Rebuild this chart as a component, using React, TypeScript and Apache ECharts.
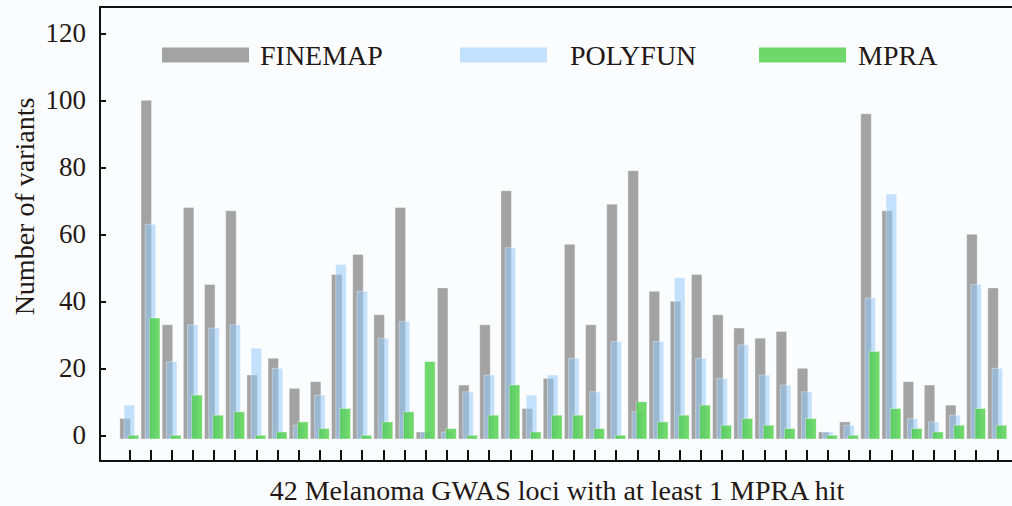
import React, { useEffect, useRef } from "react";
import * as echarts from "echarts";

// Values (42 loci)
const FINEMAP = [5, 100, 33, 68, 45, 67, 18, 23, 14, 16, 48, 54, 36, 68, 1, 44, 15, 33, 73, 8, 17, 57, 33, 69, 79, 43, 40, 48, 36, 32, 29, 31, 20, 1, 4, 96, 67, 16, 15, 9, 60, 44];
const POLYFUN = [9, 63, 22, 33, 32, 33, 26, 20, 3, 12, 51, 43, 29, 34, 1, 1, 13, 18, 56, 12, 18, 23, 13, 28, 7, 28, 47, 23, 17, 27, 18, 15, 13, 1, 3, 41, 72, 5, 4, 6, 45, 20];
const MPRA = [0, 35, 0, 12, 6, 7, 0, 1, 4, 2, 8, 0, 4, 7, 22, 2, 0, 6, 15, 1, 6, 6, 2, 0, 10, 4, 6, 9, 3, 5, 3, 2, 5, 0, 0, 25, 8, 2, 1, 3, 8, 3];
const SERIES_NAMES = ["FINEMAP", "POLYFUN", "MPRA"];
const Y_TICKS = [0, 20, 40, 60, 80, 100, 120];
const X_TITLE = "42 Melanoma GWAS loci with at least 1 MPRA hit";
const Y_TITLE = "Number of variants";

const BAR_BASE = -1.1;
const FONT = "Liberation Serif";
const TEXT_COLOR = "#231815";
const AXIS_COLOR = "#111111";
const COLORS = ["#a3a3a3", "rgba(147,201,250,0.54)", "rgba(72,205,65,0.78)"];
const BAR_FRAC = 0.496;
const OFFSET_FRAC = 0.198;

export default function App() {
  const ref = useRef<HTMLDivElement>(null);
  useEffect(() => {
    if (!ref.current) return;
    const chart = echarts.init(ref.current, undefined, { renderer: "svg" });
    const loci = FINEMAP.map((_, i) => i + 1);
    const all = [FINEMAP, POLYFUN, MPRA];

    const makeSeries = (idx: number) => ({
      type: "custom",
      name: SERIES_NAMES[idx],
      xAxisIndex: 0,
      yAxisIndex: 0,
      itemStyle: { color: COLORS[idx] },
      data: loci.map((x, i) => [x, all[idx][i]]),
      renderItem: (params: any, api: any) => {
        const x = api.value(0);
        const v = api.value(1);
        const top = api.coord([x, v]);
        const bot = api.coord([x, BAR_BASE]);
        const unit = api.size([1, 0])[0];
        const w = unit * BAR_FRAC;
        const cx = top[0] + (idx - 1) * unit * OFFSET_FRAC;
        return {
          type: "rect",
          shape: { x: cx - w / 2, y: top[1], width: w, height: bot[1] - top[1] },
          style: {
            fill: COLORS[idx],
            stroke: "rgba(255,255,255,0.45)",
            lineWidth: 0.8,
          },
        };
      },
    });

    const legendBase = (name: string, left: number, pad: number) => ({
      data: [name],
      left,
      top: 41,
      padding: 0,
      icon: "rect",
      itemWidth: 87,
      itemHeight: 15,
      selectedMode: false,
      textStyle: {
        fontFamily: FONT,
        fontSize: 28,
        color: TEXT_COLOR,
        padding: [0, 0, 0, pad],
      },
    });

    chart.setOption({
      animation: false,
      backgroundColor: "#fbfcfe",
      textStyle: { fontFamily: FONT },
      grid: { left: 100, right: 0, top: 7, bottom: 45, containLabel: false },
      legend: [
        legendBase("FINEMAP", 162, 6),
        legendBase("POLYFUN", 460, 18),
        legendBase("MPRA", 759, 7),
      ],
      xAxis: [
        {
          type: "value",
          min: -0.384,
          max: 42.696,
          position: "bottom",
          axisLine: { show: true, onZero: false, lineStyle: { color: AXIS_COLOR, width: 2 } },
          axisTick: {
            show: true,
            inside: true,
            length: 11,
            customValues: loci,
            lineStyle: { color: AXIS_COLOR, width: 2 },
          },
          axisLabel: { show: false },
          splitLine: { show: false },
        },
        {
          type: "value",
          min: -0.384,
          max: 42.696,
          position: "top",
          axisLine: { show: true, onZero: false, lineStyle: { color: AXIS_COLOR, width: 2 } },
          axisTick: { show: false },
          axisLabel: { show: false },
          splitLine: { show: false },
        },
      ],
      yAxis: {
        type: "value",
        min: -7.67,
        max: 127.85,
        axisLine: { show: true, onZero: false, lineStyle: { color: AXIS_COLOR, width: 2 } },
        axisTick: {
          show: true,
          inside: true,
          length: 6,
          customValues: Y_TICKS,
          lineStyle: { color: AXIS_COLOR, width: 2 },
        },
        axisLabel: {
          customValues: Y_TICKS,
          margin: 14,
          fontFamily: FONT,
          fontSize: 27,
          color: TEXT_COLOR,
        },
        splitLine: { show: false },
      },
      graphic: [
        {
          type: "text",
          x: 24,
          y: 206.5,
          rotation: Math.PI / 2,
          style: {
            text: Y_TITLE,
            fontFamily: FONT,
            fontSize: 28,
            fill: TEXT_COLOR,
            align: "center",
            verticalAlign: "middle",
          },
        },
        {
          type: "text",
          x: 557,
          y: 490,
          style: {
            text: X_TITLE,
            fontFamily: FONT,
            fontSize: 28,
            fill: TEXT_COLOR,
            align: "center",
            verticalAlign: "middle",
          },
        },
      ],
      series: [makeSeries(0), makeSeries(1), makeSeries(2)],
    });
    return () => chart.dispose();
  }, []);
  return (
    <div
      ref={ref}
      style={{ position: "fixed", left: 0, top: 0, width: 1012, height: 506 }}
    />
  );
}
